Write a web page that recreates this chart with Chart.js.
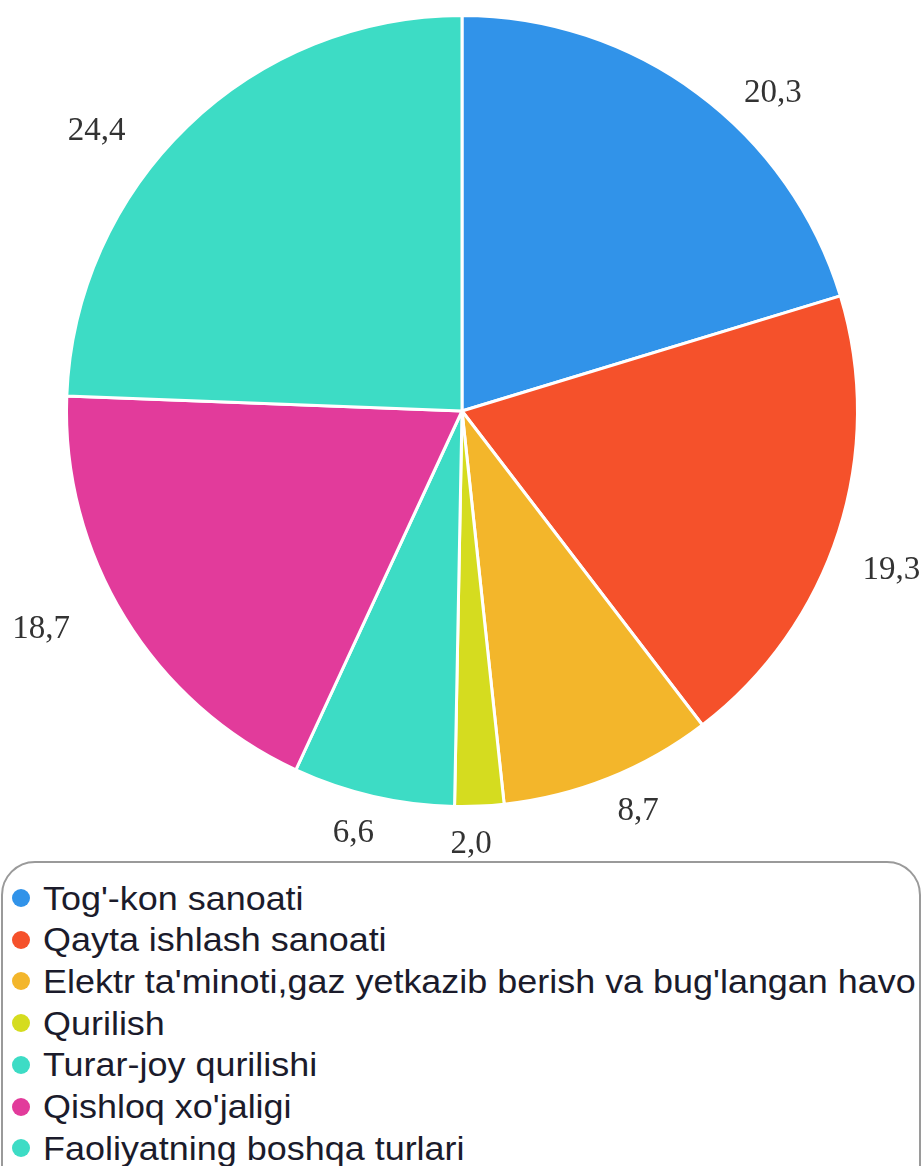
<!DOCTYPE html>
<html>
<head>
<meta charset="utf-8">
<script src="https://cdn.jsdelivr.net/npm/chart.js@4"></script>
<style>
  html, body { margin:0; padding:0; background:#fff; }
  #wrap { position:relative; width:924px; height:1166px; overflow:hidden; }
  #c { position:absolute; left:0; top:0; }
  #legend { position:absolute; left:1px; top:861px; width:920px; height:340px;
    border:2px solid #9a9a9a; border-radius:34px; box-sizing:border-box; }
  .item { position:absolute; left:0; height:40px; display:flex; align-items:center;
    font-family:"Liberation Sans", Arial, sans-serif; font-size:34px; color:#1b1b2b; white-space:nowrap; }
  .dot { width:18px; height:18px; border-radius:50%; margin-left:9px; margin-right:13px; flex:none; }
  .txt { display:inline-block; transform:scaleX(1.057); transform-origin:left center; }
</style>
</head>
<body>
<div id="wrap">
  <canvas id="c" width="924" height="860"></canvas>
  <div id="legend"></div>
</div>
<script>
const categories = [
  "Tog'-kon sanoati",
  "Qayta ishlash sanoati",
  "Elektr ta'minoti,gaz yetkazib berish va bug'langan havo",
  "Qurilish",
  "Turar-joy qurilishi",
  "Qishloq xo'jaligi",
  "Faoliyatning boshqa turlari"
];
const values = [20.3, 19.3, 8.7, 2.0, 6.6, 18.7, 24.4];
const valueLabels = ["20,3", "19,3", "8,7", "2,0", "6,6", "18,7", "24,4"];
const colors = ["#3193e9", "#f5512b", "#f3b62b", "#d5dc1f", "#3ddcc5", "#e23b9b", "#3ddcc5"];

// label placement relative to each arc: angle nudge (deg) and gap beyond the outer radius (px)
const labelPlacement = {
  angleNudge: [7.7, 2.4, -2.0, 1.3, 1.5, 4.2, -8.6],
  gap: [50, 62, 41, 37, 40, 78, 65]
};

const labelPlugin = {
  id: 'outerLabels',
  afterDatasetsDraw(chart, args, opts) {
    const ctx = chart.ctx;
    const meta = chart.getDatasetMeta(0);
    ctx.save();
    ctx.font = '33px "Liberation Serif", "Times New Roman", serif';
    ctx.fillStyle = '#333';
    ctx.textBaseline = 'middle';
    ctx.textAlign = 'center';
    meta.data.forEach((arc, i) => {
      const p = arc.getProps(['x','y','startAngle','endAngle','outerRadius'], true);
      const mid = (p.startAngle + p.endAngle) / 2 + opts.angleNudge[i] * Math.PI / 180;
      const r = p.outerRadius + opts.gap[i];
      ctx.fillText(valueLabels[i], p.x + Math.cos(mid) * r, p.y + Math.sin(mid) * r + 1);
    });
    ctx.restore();
  }
};

const chart = new Chart(document.getElementById('c'), {
  type: 'pie',
  data: {
    labels: categories,
    datasets: [{
      data: values,
      backgroundColor: colors,
      borderColor: '#ffffff',
      borderWidth: 3
    }]
  },
  options: {
    responsive: false,
    animation: false,
    layout: { padding: { top: 14, bottom: 52, left: 0, right: 0 } },
    plugins: {
      legend: { display: false },
      tooltip: { enabled: false },
      outerLabels: labelPlacement
    }
  },
  plugins: [labelPlugin]
});

const leg = document.getElementById('legend');
categories.forEach((name, i) => {
  const d = document.createElement('div');
  d.className = 'item';
  d.style.top = (15 + i * 41.7) + 'px';
  d.innerHTML = '<span class="dot" style="background:' + colors[i] + '"></span><span class="txt"></span>';
  d.lastChild.textContent = name;
  leg.appendChild(d);
});
</script>
</body>
</html>
